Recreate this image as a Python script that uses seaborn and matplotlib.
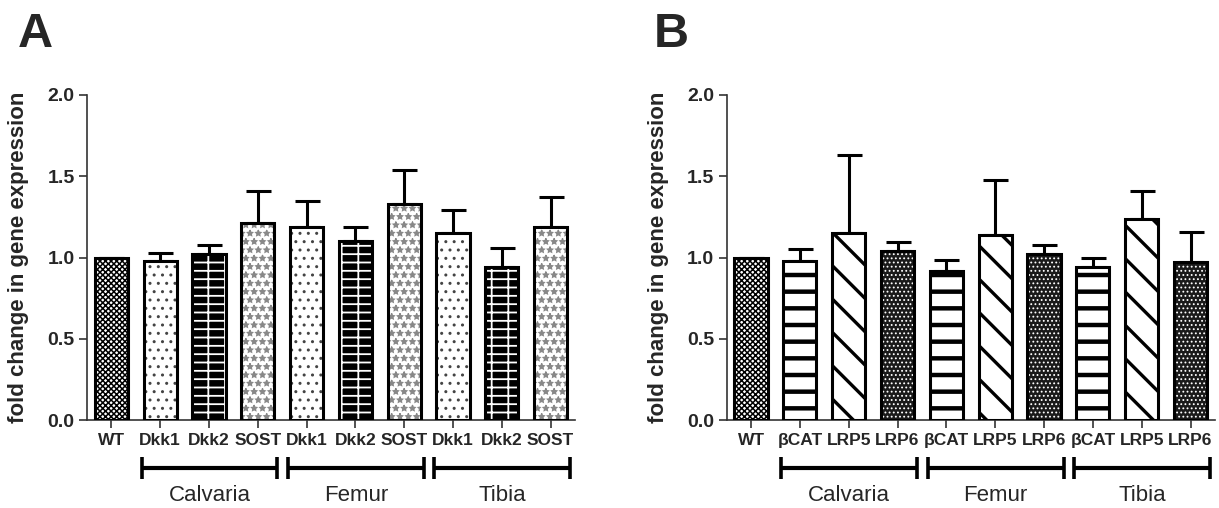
import matplotlib
matplotlib.use("Agg")
import matplotlib.pyplot as plt
from matplotlib.patches import Rectangle
import seaborn as sns

# --- data ---
left_labels = ['WT', 'Dkk1', 'Dkk2', 'SOST', 'Dkk1', 'Dkk2', 'SOST', 'Dkk1', 'Dkk2', 'SOST']
left_means = [1.00, 0.98, 1.02, 1.21, 1.19, 1.10, 1.33, 1.15, 0.94, 1.19]
left_err = [0.0, 0.05, 0.055, 0.20, 0.16, 0.085, 0.21, 0.14, 0.12, 0.18]

right_labels = ['WT', 'βCAT', 'LRP5', 'LRP6', 'βCAT', 'LRP5', 'LRP6', 'βCAT', 'LRP5', 'LRP6']
right_means = [1.00, 0.98, 1.15, 1.04, 0.92, 1.14, 1.02, 0.94, 1.24, 0.97]
right_err = [0.0, 0.07, 0.48, 0.055, 0.065, 0.34, 0.06, 0.06, 0.17, 0.19]

group_names = ['Calvaria', 'Femur', 'Tibia']
group_spans = [(1, 3), (4, 6), (7, 9)]
y_ticks = [0.0, 0.5, 1.0, 1.5, 2.0]

# bar fill styles: (facecolor, hatch, hatch colour, hatch linewidth)
WT_STYLE = ('white', 'xxxxxx', 'black', 1.1)
left_styles = {
    'Dkk1': ('white', '..', '#444444', 1.0),
    'Dkk2': ('black', '--|', 'white', 1.3),
    'SOST': ('white', '**', '#888888', 0.9),
}
right_styles = {
    'βCAT': ('white', '-', 'black', 3.2),
    'LRP5': ('white', '\\', 'black', 2.4),
    'LRP6': ('#1a1a1a', '....', 'white', 0.8),
}

sns.set_style('ticks')
plt.rcParams['font.family'] = ['Liberation Sans', 'DejaVu Sans']


def draw_panel(ax, labels, means, errs, styles):
    sns.barplot(x=list(range(len(means))), y=means, ax=ax, width=0.68,
                color='white', errorbar=None, zorder=2)
    for lab, patch in zip(labels, ax.patches[:len(means)]):
        fc, hatch, hc, hlw = WT_STYLE if lab == 'WT' else styles[lab]
        patch.set_facecolor(fc)
        patch.set_hatch(hatch)
        patch.set_edgecolor(hc)
        patch.set_linewidth(0)
        if hasattr(patch, 'set_hatch_linewidth'):
            patch.set_hatch_linewidth(hlw)
        ax.add_patch(Rectangle(patch.get_xy(), patch.get_width(), patch.get_height(),
                               fill=False, ec='black', lw=2.2, zorder=3))
    ax.errorbar(range(len(means)), means, yerr=[[0] * len(errs), errs], fmt='none',
                ecolor='black', elinewidth=2.2, capsize=9, capthick=2.2, zorder=1)

    ax.set_xlim(-0.5, len(means) - 0.5)
    ax.set_ylim(0, 2.0)
    ax.set_yticks(y_ticks)
    ax.set_yticklabels([f'{t:.1f}' for t in y_ticks], fontsize=14, fontweight='bold')
    ax.set_xticks(range(len(labels)))
    ax.set_xticklabels(labels, fontsize=12.5, fontweight='bold')
    ax.tick_params(axis='both', length=6, width=1.2, color='#333333', pad=3)
    sns.despine(ax=ax)
    for side in ('left', 'bottom'):
        ax.spines[side].set_linewidth(1.2)
        ax.spines[side].set_color('#333333')
    ax.set_ylabel('fold change in gene expression', fontsize=16, fontweight='bold')
    ax.yaxis.set_label_coords(-0.118, 0.5)

    # group brackets under the tick labels
    trans = ax.get_xaxis_transform()
    for name, (a, b) in zip(group_names, group_spans):
        x0, x1 = a - 0.38, b + 0.4
        ax.plot([x0, x1], [-0.148, -0.148], color='black', lw=3, transform=trans,
                clip_on=False, solid_capstyle='butt')
        for xc in (x0, x1):
            ax.plot([xc, xc], [-0.115, -0.183], color='black', lw=2.6, transform=trans,
                    clip_on=False, solid_capstyle='butt')
        ax.text((x0 + x1) / 2, -0.232, name, transform=trans, ha='center', va='center',
                fontsize=16)


fig = plt.figure(figsize=(12.19, 5.08), dpi=100)
ax_a = fig.add_axes([0.0714, 0.1732, 0.4003, 0.6398])
ax_b = fig.add_axes([0.5961, 0.1732, 0.4006, 0.6398])

draw_panel(ax_a, left_labels, left_means, left_err, left_styles)
draw_panel(ax_b, right_labels, right_means, right_err, right_styles)

fig.text(18 / 1219, 1 - 47 / 508, 'A', fontsize=35, fontweight='bold', va='baseline')
fig.text(654 / 1219, 1 - 47 / 508, 'B', fontsize=35, fontweight='bold', va='baseline')

fig.savefig('out.png', dpi=100)
